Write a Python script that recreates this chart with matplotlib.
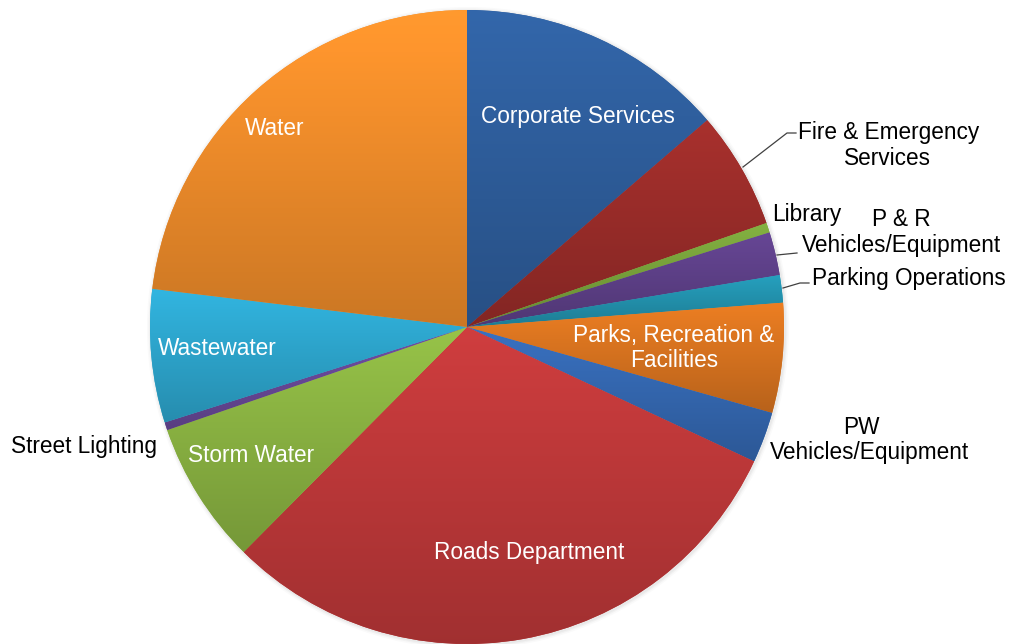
import numpy as np
import matplotlib
matplotlib.use('Agg')
import matplotlib.pyplot as plt
import matplotlib.colors as mcolors
from matplotlib.patches import Circle

plt.rcParams['font.family'] = ['Liberation Sans', 'DejaVu Sans']

# Share of budget by department (percent), clockwise from 12 o'clock
departments = ['Corporate Services', 'Fire & Emergency Services', 'Library',
               'P & R Vehicles/Equipment', 'Parking Operations',
               'Parks, Recreation & Facilities', 'PW Vehicles/Equipment',
               'Roads Department', 'Storm Water', 'Street Lighting',
               'Wastewater', 'Water']
shares = [13.7, 6.0, 0.5, 2.2, 1.4, 5.6, 2.6, 30.5, 7.3, 0.4, 6.8, 23.1]
colors = ['#2f5f9e', '#9c2d2a', '#7aa43c', '#5f418a', '#2394b0', '#db7520',
          '#3569b3', '#c0393a', '#8cb543', '#6a4a9a', '#2ea8d0', '#f28e2b']

W, H = 1013, 644
fig = plt.figure(figsize=(W / 100, H / 100), dpi=100)
ax = fig.add_axes([0, 0, 1, 1])

cx, cy, R = 467, H - 327, 317

# soft shadow behind the pie
for k, a in [(4, 0.04), (2.5, 0.06), (1.2, 0.08)]:
    ax.add_patch(Circle((cx + 1, cy - 1), R + k, color='#808080', alpha=a, lw=0, zorder=0))

wedges, _ = ax.pie(shares, colors=colors, startangle=90, counterclock=False,
                   center=(cx, cy), radius=R, frame=True,
                   wedgeprops=dict(linewidth=0, edgecolor='none'))

# vertical gradient inside each slice: lighter at top, darker at bottom
for w, c in zip(wedges, colors):
    x0, y0, x1, y1 = w.get_path().get_extents().extents
    base = np.array(mcolors.to_rgb(c))
    t = np.linspace(1.0, 0.0, 64)[:, None]          # 1 at top row, 0 at bottom
    fac = 0.84 + 0.24 * t
    img = np.clip(base[None, :] * fac, 0, 1)[:, None, :]
    im = ax.imshow(img, extent=(x0, x1, y0, y1), origin='upper',
                   aspect='auto', interpolation='bicubic', zorder=2)
    im.set_clip_path(w)

ax.set_xlim(0, W)
ax.set_ylim(0, H)
ax.set_aspect('equal')
ax.axis('off')


def px(x, y):
    return x, H - y


fs = 16.3
white = dict(color='white', fontsize=fs, ha='center', va='center', zorder=5)
black = dict(color='black', fontsize=fs, ha='center', va='center', zorder=5)

ax.text(*px(578, 116), 'Corporate Services', **white)
ax.text(*px(275, 128), 'Water', **white)
ax.text(*px(217, 348), 'Wastewater', **white)
ax.text(*px(251, 455), 'Storm Water', **white)
ax.text(*px(529, 553), 'Roads Department', **white)
ax.text(*px(674, 335), 'Parks, Recreation &', **white)
ax.text(*px(674, 360), 'Facilities', **white)

ax.text(*px(889, 132), 'Fire & Emergency', **black)
ax.text(*px(887, 158), 'Services', **black)
ax.text(*px(807, 214), 'Library', **black)
ax.text(*px(901, 219), 'P & R', **black)
ax.text(*px(901, 245), 'Vehicles/Equipment', **black)
ax.text(*px(909, 278), 'Parking Operations', **black)
ax.text(*px(861, 427), 'PW', **black)
ax.text(*px(869, 453), 'Vehicles/Equipment', **black)
ax.text(*px(84, 447), 'Street Lighting', **black)

# leader lines for the small outside labels
leaders = [[(743, 167), (787, 133), (796, 133)],
           [(777, 255), (797, 253)],
           [(783, 288), (800, 283), (809, 283)]]
for pts in leaders:
    xs, ys = zip(*[px(*p) for p in pts])
    ax.plot(xs, ys, color='#404040', lw=0.9, zorder=4)

fig.savefig('out.png', dpi=100)
